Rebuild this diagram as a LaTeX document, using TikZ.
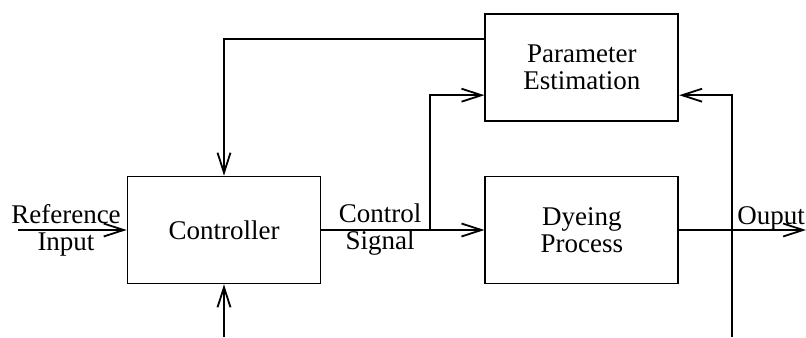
\documentclass[tikz,border=0pt]{standalone}
\usepackage{fontspec}
\setmainfont{Liberation Serif}
\usetikzlibrary{positioning,arrows.meta}
\tikzset{
  blockbox/.style={draw,line width=0.9pt,align=center,minimum width=96.5pt,minimum height=53.5pt,inner sep=2pt},
  sigarr/.style={-{Straight Barb[length=10pt,width=6.5pt]},line width=0.9pt},
  sigline/.style={line width=0.9pt},
  siglabel/.style={align=center,inner sep=0pt}
}

\begin{document}
\begin{tikzpicture}[font=\fontsize{13.5}{13.5}\selectfont]
  \useasboundingbox (0,0) rectangle (403pt,-168.5pt);
  \node[blockbox] (ctrl) at (112pt,-115pt) {Controller};
  \node[blockbox,right=81.5pt of ctrl] (dye) {Dyeing\\Process};
  \node[blockbox,above=27pt of dye] (est) {Parameter\\Estimation};
  % free ends and taps
  \coordinate (refin) at (9pt,-115pt);
  \coordinate (out) at (403pt,-115pt);
  \coordinate (tap) at (215pt,-115pt);
  \coordinate (dist) at (ctrl.south |- 0,-168.5pt);
  \coordinate (meas) at (366pt,-168.5pt);
  \coordinate (estin) at ([yshift=-14pt]est.west);
  \coordinate (estout) at ([yshift=14pt]est.west);
  \coordinate (estmeas) at ([yshift=-14pt]est.east);
  \draw[sigarr] (refin) -- (ctrl);
  \draw[sigarr] (ctrl) -- (dye);
  \draw[sigarr] (dye) -- (out);
  \draw[sigarr] (tap) |- (estin);
  \draw[sigarr] (estout) -| (ctrl.north);
  \draw[sigarr] (dist) -- (ctrl.south);
  \draw[sigarr] (meas) |- (estmeas);
  \node[siglabel] (reflbl) at (33pt,-115pt) {Reference\\Input};
  \node[siglabel] (ctllbl) at (190pt,-115pt) {Control\\Signal};
  \node[siglabel,anchor=base] (outlbl) at (385.5pt,-112pt) {Ouput};
\end{tikzpicture}
\end{document}
